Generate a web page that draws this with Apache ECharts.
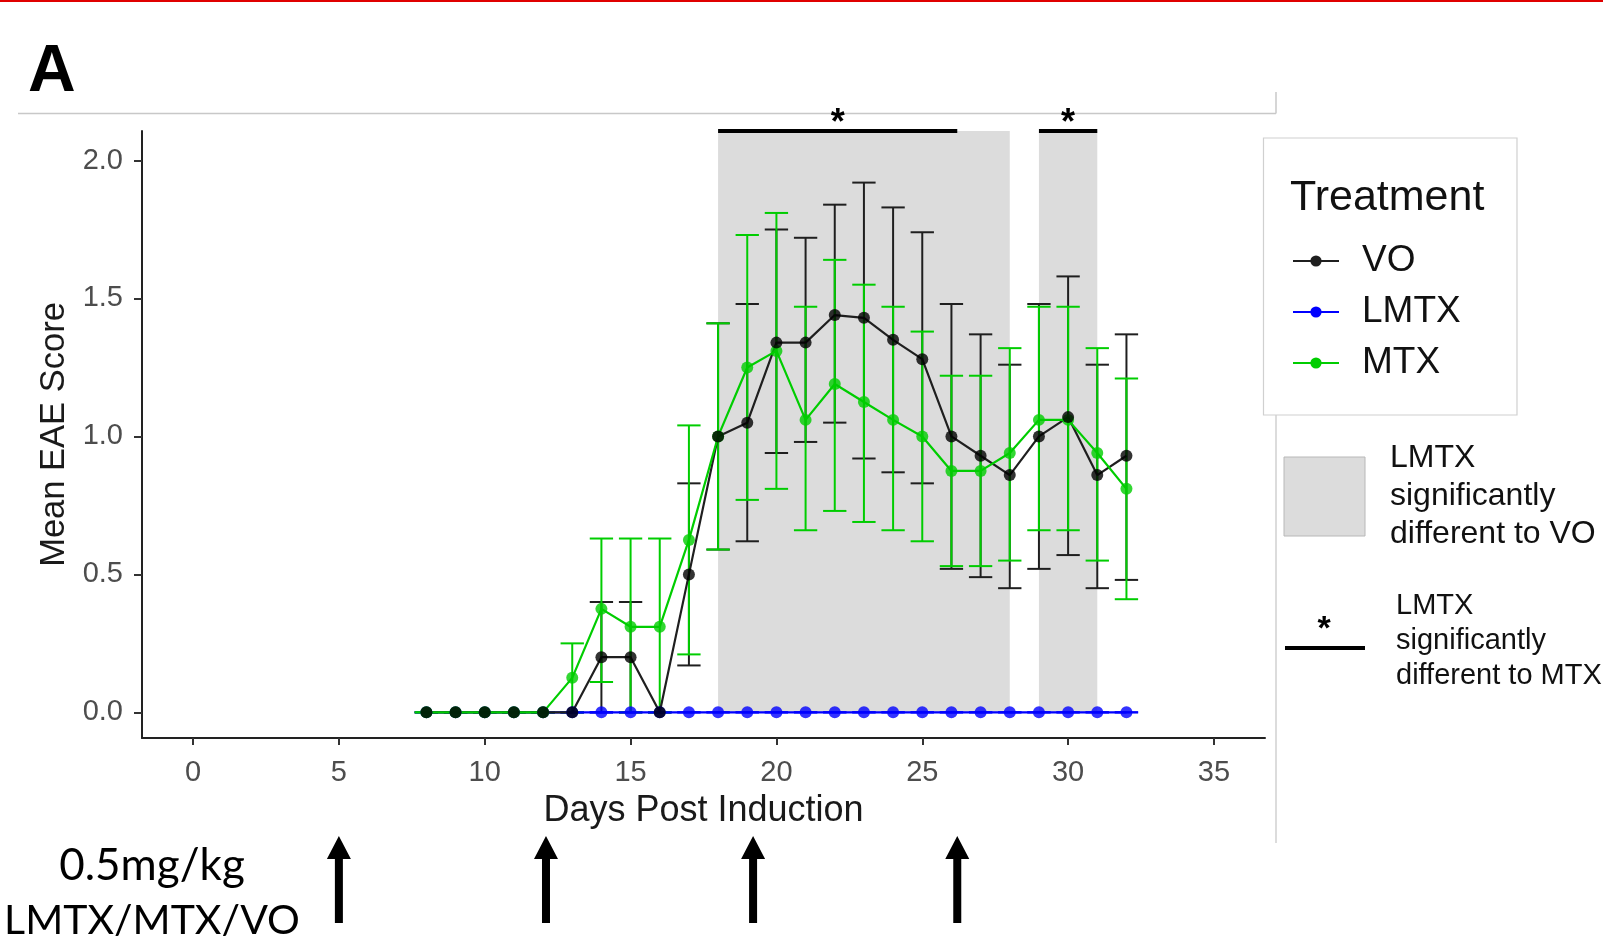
<!DOCTYPE html>
<html><head><meta charset="utf-8">
<script src="https://cdn.jsdelivr.net/npm/echarts@6/dist/echarts.min.js"></script>
<style>html,body{margin:0;padding:0;background:#fff;}#c{width:1603px;height:937px;}</style>
</head><body><div id="c"></div>
<script>
// ---- data ----
const days = [8,9,10,11,12,13,14,15,16,17,18,19,20,21,22,23,24,25,26,27,28,29,30,31,32];
const VO_mean = [0,0,0,0,0,0,0.2,0.2,0,0.5,1.0,1.05,1.34,1.34,1.44,1.43,1.35,1.28,1.0,0.93,0.86,1.0,1.07,0.86,0.93];
const VO_lo   = [0,0,0,0,0,0,0,0,0,0.17,0.59,0.62,0.94,0.98,1.05,0.92,0.87,0.83,0.52,0.49,0.45,0.52,0.57,0.45,0.48];
const VO_hi   = [0,0,0,0,0,0,0.4,0.4,0,0.83,1.41,1.48,1.75,1.72,1.84,1.92,1.83,1.74,1.48,1.37,1.26,1.48,1.58,1.26,1.37];
const LMTX_mean = [0,0,0,0,0,0,0,0,0,0,0,0,0,0,0,0,0,0,0,0,0,0,0,0,0];
const LMTX_lo   = [0,0,0,0,0,0,0,0,0,0,0,0,0,0,0,0,0,0,0,0,0,0,0,0,0];
const LMTX_hi   = [0,0,0,0,0,0,0,0,0,0,0,0,0,0,0,0,0,0,0,0,0,0,0,0,0];
const MTX_mean = [0,0,0,0,0,0.125,0.375,0.31,0.31,0.625,1.0,1.25,1.31,1.06,1.19,1.125,1.06,1.0,0.875,0.875,0.94,1.06,1.06,0.94,0.81];
const MTX_lo   = [0,0,0,0,0,0,0.11,0,0,0.21,0.59,0.77,0.81,0.66,0.73,0.69,0.66,0.62,0.53,0.53,0.55,0.66,0.66,0.55,0.41];
const MTX_hi   = [0,0,0,0,0,0.25,0.63,0.63,0.63,1.04,1.41,1.73,1.81,1.47,1.64,1.55,1.47,1.38,1.22,1.22,1.32,1.47,1.47,1.32,1.21];
const xTicks = [0,5,10,15,20,25,30,35];
const yTicks = [0,0.5,1.0,1.5,2.0];
const sigVO  = [[18,28],[29,31]];      // shaded: LMTX significantly different to VO
const sigMTX = [[18,26.2],[29,31]];    // bar + asterisk: LMTX significantly different to MTX
const doseDays = [5,12.1,19.2,26.2];   // dosing arrows

// ---- chart ----
const chart = echarts.init(document.getElementById('c'), null, {renderer:'canvas'});
const FONT = "'Liberation Sans', Arial, sans-serif";
const X_MIN = -1.75, X_MAX = 36.75, Y_MIN = -0.093, Y_MAX = 2.107;
const CAP = 0.8;
const C_VO = '#1f1f1f', C_L = '#0000ff', C_M = '#00cd00';
const pairs = ys => days.map((d,i)=>[d, ys[i]]);
const bars = (lo,hi) => days.map((d,i)=>[d, lo[i], hi[i]]);

function errRender(color){
  return function(params, api){
    const x = api.value(0), lo = api.value(1), hi = api.value(2);
    const a = api.coord([x, lo]), b = api.coord([x, hi]);
    const hw = api.size([CAP, 0])[0] / 2;
    const st = {stroke: color, lineWidth: 2};
    return {type:'group', children:[
      {type:'line', shape:{x1:a[0],y1:a[1],x2:b[0],y2:b[1]}, style:st},
      {type:'line', shape:{x1:a[0]-hw,y1:a[1],x2:a[0]+hw,y2:a[1]}, style:st},
      {type:'line', shape:{x1:b[0]-hw,y1:b[1],x2:b[0]+hw,y2:b[1]}, style:st}
    ]};
  };
}
function errSeries(name, lo, hi, color){
  return {type:'custom', name:name+'_err', data:bars(lo,hi), renderItem:errRender(color),
    encode:{x:0, y:[1,2]}, z:2, silent:true, clip:false};
}
function lineSeries(name, ys, color){
  return {type:'line', name:name, data:pairs(ys), showSymbol:false, symbol:'circle',
    lineStyle:{color:color, width:2.2}, itemStyle:{color:color}, z:3, silent:true};
}
function ptSeries(name, ys, color){
  return {type:'scatter', name:name+'_pts', data:pairs(ys), symbol:'circle', symbolSize:12,
    itemStyle:{color:color}, z:4, silent:true};
}

const option = {
  animation:false,
  backgroundColor:'#fff',
  grid:{left:142, right:338, top:131, bottom:199},
  xAxis:{type:'value', min:X_MIN, max:X_MAX,
    name:'Days Post Induction', nameLocation:'middle', nameGap:55,
    nameTextStyle:{fontSize:36, fontFamily:FONT, color:'#1a1a1a'},
    axisLine:{show:true, onZero:false, lineStyle:{color:'#222', width:2}},
    axisTick:{show:true, length:7, lineStyle:{color:'#333', width:2}, customValues:xTicks},
    axisLabel:{fontSize:29, fontFamily:FONT, color:'#4d4d4d', margin:20, customValues:xTicks},
    splitLine:{show:false}},
  yAxis:{type:'value', min:Y_MIN, max:Y_MAX,
    name:'Mean EAE Score', nameLocation:'middle', nameGap:70,
    nameTextStyle:{fontSize:34.5, fontFamily:FONT, color:'#1a1a1a'},
    axisLine:{show:true, onZero:false, lineStyle:{color:'#222', width:2}},
    axisTick:{show:true, length:8, lineStyle:{color:'#333', width:2}, customValues:yTicks},
    axisLabel:{fontSize:29, fontFamily:FONT, color:'#4d4d4d', margin:19, customValues:yTicks,
      formatter:v=>v.toFixed(1)},
    splitLine:{show:false}},
  legend:{orient:'vertical', left:1292, top:241, padding:0, itemWidth:46, itemHeight:14, itemGap:11,
    data:['VO','LMTX','MTX'], selectedMode:false,
    textStyle:{fontSize:37, fontFamily:FONT, color:'#111', padding:[0,0,0,18], lineHeight:40}},
  series:[
    {type:'custom', name:'shade', data:sigVO, z:1, silent:true, clip:false,
      encode:{x:[0,1]},
      renderItem:function(params, api){
        const p0 = api.coord([api.value(0), 0]);
        const p1 = api.coord([api.value(1), Y_MAX]);
        return {type:'rect', shape:{x:p0[0], y:p1[1], width:p1[0]-p0[0], height:p0[1]-p1[1]},
          style:{fill:'#dcdcdc'}};
      }},
    errSeries('VO', VO_lo, VO_hi, C_VO),
    errSeries('LMTX', LMTX_lo, LMTX_hi, C_L),
    errSeries('MTX', MTX_lo, MTX_hi, C_M),
    lineSeries('LMTX', LMTX_mean, C_L),
    lineSeries('VO', VO_mean, C_VO),
    lineSeries('MTX', MTX_mean, C_M),
    ptSeries('LMTX', LMTX_mean, C_L),
    ptSeries('MTX', MTX_mean, C_M),
    ptSeries('VO', VO_mean, '#000'),
    {type:'custom', name:'sig', data:sigMTX, z:6, silent:true, clip:false,
      encode:{x:[0,1]},
      renderItem:function(params, api){
        const a = api.coord([api.value(0), Y_MAX]);
        const b = api.coord([api.value(1), Y_MAX]);
        return {type:'group', children:[
          {type:'line', shape:{x1:a[0], y1:a[1], x2:b[0], y2:b[1]}, style:{stroke:'#000', lineWidth:4}},
          {type:'text', style:{text:'*', x:(a[0]+b[0])/2, y:a[1]-7, align:'center', verticalAlign:'middle',
            fontSize:36, fontWeight:'bold', fontFamily:FONT, fill:'#000'}}
        ]};
      }},
    {type:'custom', name:'dose', data:doseDays.map(d=>[d]), z:6, silent:true, clip:false,
      encode:{x:0},
      renderItem:function(params, api){
        const x = api.coord([api.value(0), 0])[0];
        return {type:'polygon', shape:{points:[
          [x-4,923],[x+4,923],[x+4,859],[x+12,859],[x,836],[x-12,859],[x-4,859]]},
          style:{fill:'#000'}};
      }}
  ],
  graphic:[
    {type:'rect', shape:{x:0, y:0, width:1603, height:2}, style:{fill:'#e00000'}, silent:true},
    {type:'line', shape:{x1:18, y1:113.5, x2:1276, y2:113.5}, style:{stroke:'#c8c8c8', lineWidth:1.5}, silent:true},
    {type:'line', shape:{x1:1276, y1:92, x2:1276, y2:113.5}, style:{stroke:'#c8c8c8', lineWidth:1.5}, silent:true},
    {type:'line', shape:{x1:1276, y1:415, x2:1276, y2:843}, style:{stroke:'#d0d0d0', lineWidth:1.5}, silent:true},
    {type:'text', style:{text:'A', x:28, y:73, verticalAlign:'middle', fontSize:66, fontWeight:'bold', fontFamily:FONT, fill:'#000'}, silent:true},
    {type:'rect', shape:{x:1263.5, y:138, width:253.5, height:277}, style:{fill:'none', stroke:'#d0d0d0', lineWidth:1.2}, silent:true, z:-1},
    {type:'text', style:{text:'Treatment', x:1290, y:198, verticalAlign:'middle', fontSize:43, fontFamily:FONT, fill:'#111'}, silent:true},
    {type:'rect', shape:{x:1284, y:457, width:81, height:79}, style:{fill:'#dcdcdc', stroke:'#b8b8b8', lineWidth:1}, silent:true},
    {type:'text', style:{text:'LMTX\nsignificantly\ndifferent to VO', x:1390, y:496, verticalAlign:'middle', lineHeight:38, fontSize:32, fontFamily:FONT, fill:'#111'}, silent:true},
    {type:'line', shape:{x1:1285, y1:648, x2:1365, y2:648}, style:{stroke:'#000', lineWidth:4}, silent:true},
    {type:'text', style:{text:'*', x:1324, y:630, align:'center', verticalAlign:'middle', fontSize:34, fontWeight:'bold', fontFamily:FONT, fill:'#000'}, silent:true},
    {type:'text', style:{text:'LMTX\nsignificantly\ndifferent to MTX', x:1396, y:641, verticalAlign:'middle', lineHeight:35, fontSize:29, fontFamily:FONT, fill:'#111'}, silent:true},
    {type:'text', style:{text:'0.5mg/kg', x:152, y:866, align:'center', verticalAlign:'middle', fontSize:44, fontFamily:'Lato, sans-serif', fill:'#000'}, silent:true},
    {type:'text', style:{text:'LMTX/MTX/VO', x:152, y:921, align:'center', verticalAlign:'middle', fontSize:41, fontFamily:'Lato, sans-serif', fill:'#000'}, silent:true}
  ]
};
chart.setOption(option);
</script></body></html>
